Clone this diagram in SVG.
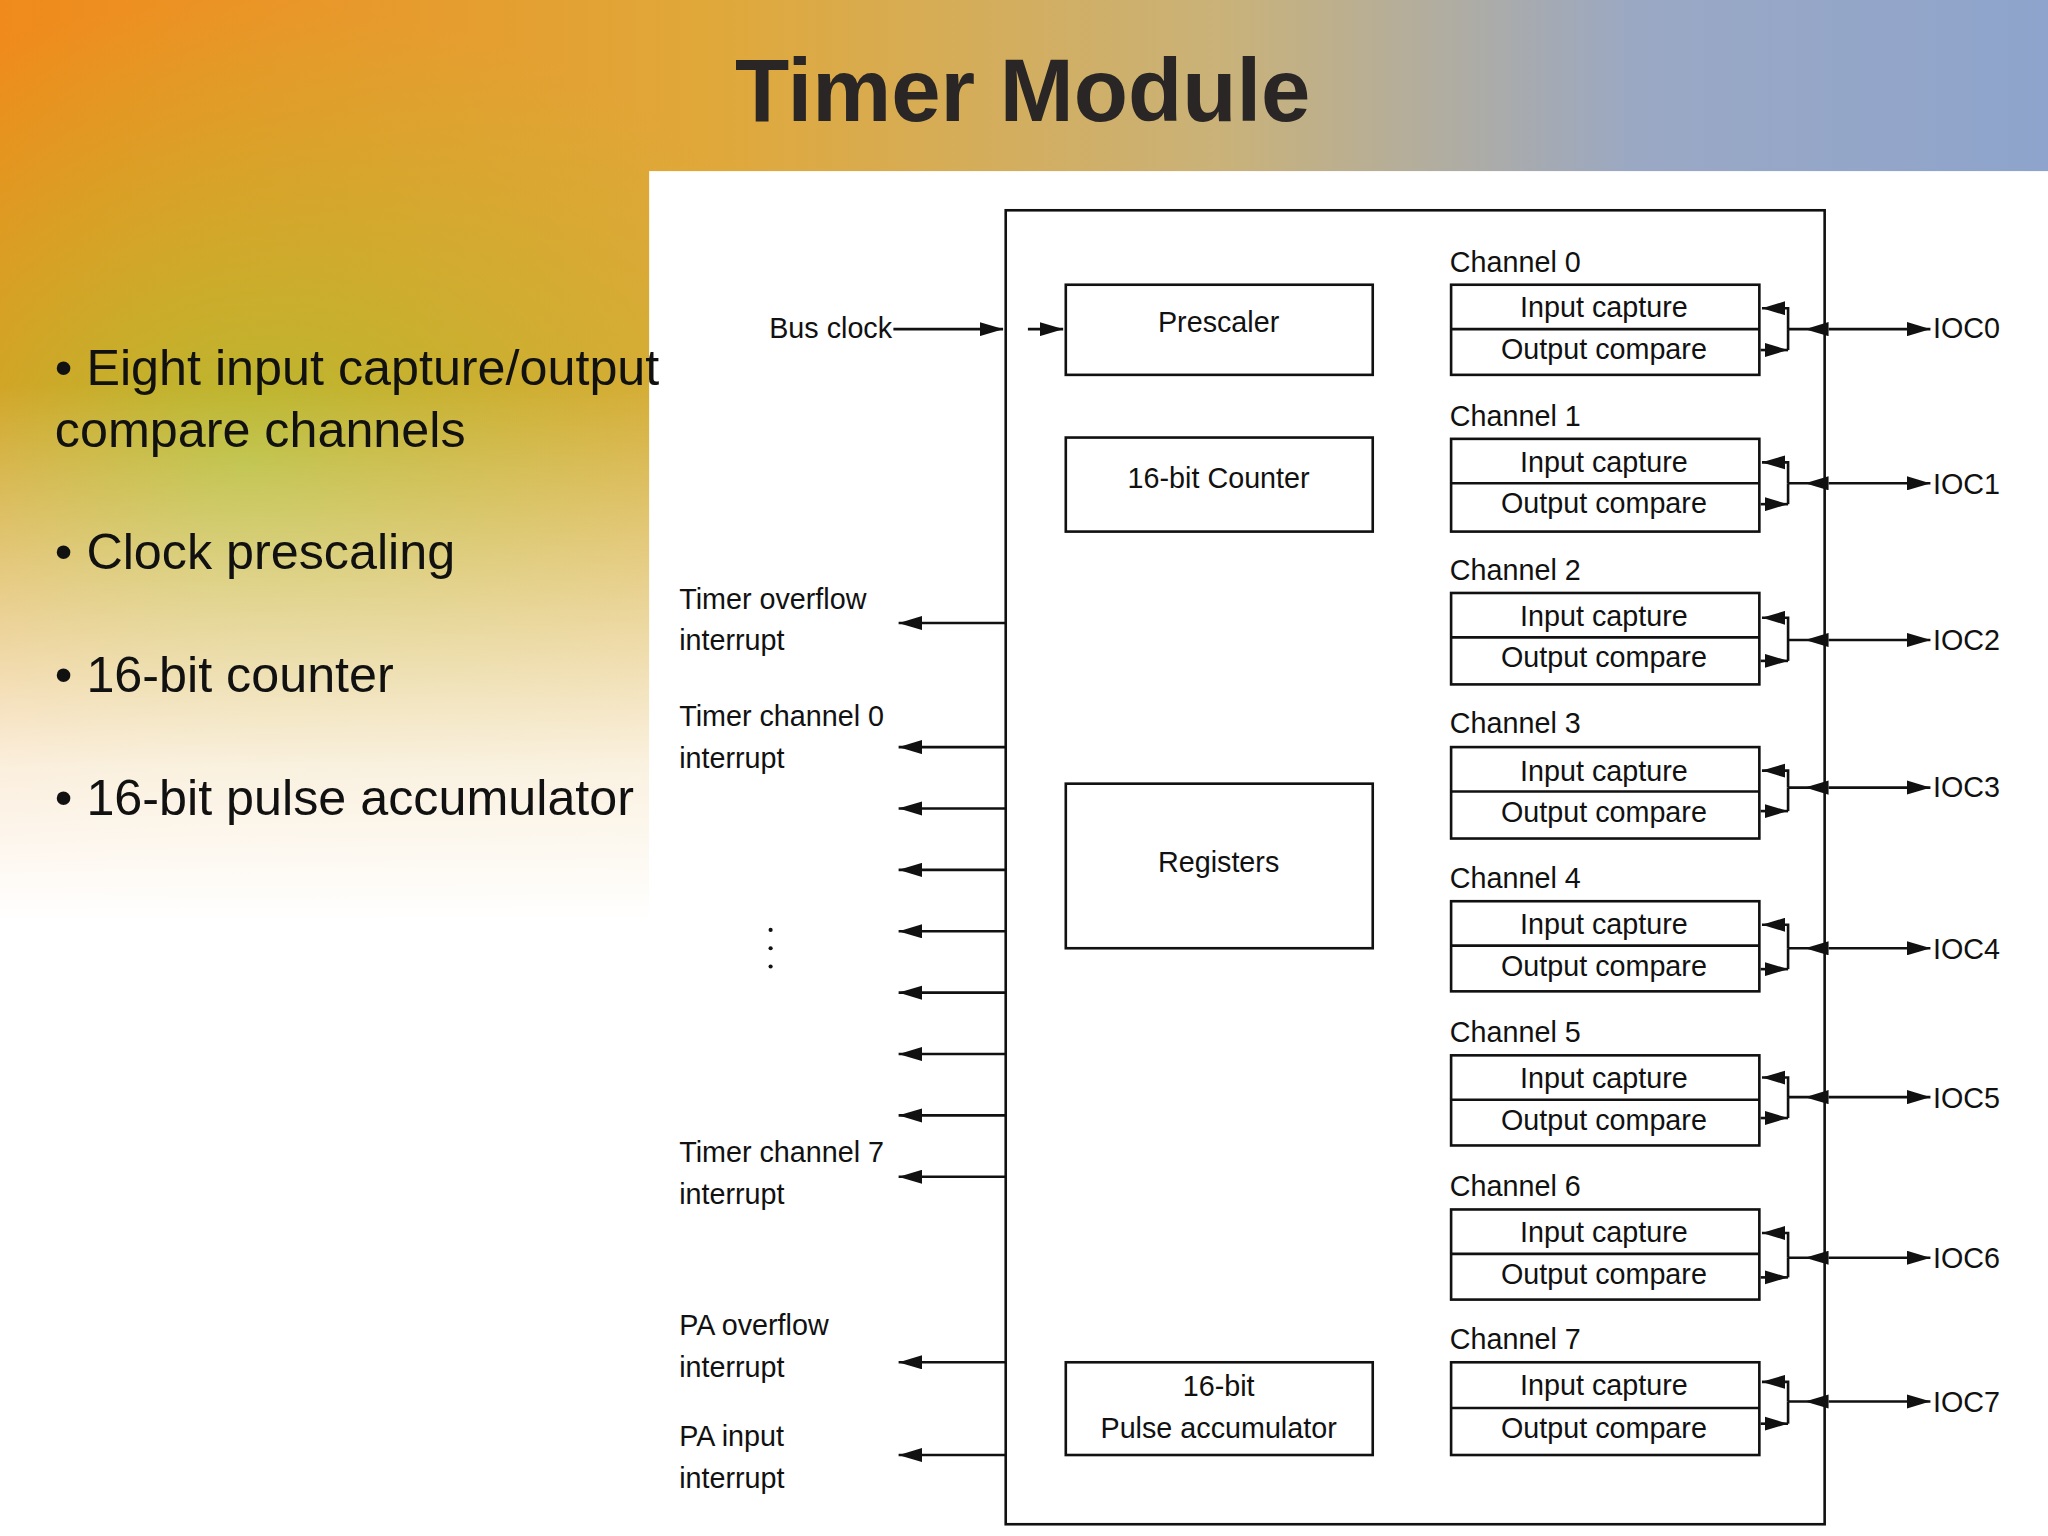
<svg xmlns="http://www.w3.org/2000/svg" width="2048" height="1536" viewBox="0 0 2048 1536">
<defs>
<linearGradient id="bgH" x1="0" y1="0" x2="1" y2="0">
<stop offset="0" stop-color="#f08a1c"/><stop offset="0.35" stop-color="#e0a83a"/><stop offset="0.6" stop-color="#c9b27a"/><stop offset="0.8" stop-color="#9aa8c4"/><stop offset="1" stop-color="#8ea4cc"/>
</linearGradient>
<linearGradient id="fadeV" x1="0" y1="0" x2="0" y2="1">
<stop offset="0" stop-color="#fff" stop-opacity="0"/><stop offset="0.25" stop-color="#fff" stop-opacity="0"/><stop offset="0.5" stop-color="#fff" stop-opacity="0.85"/><stop offset="0.6" stop-color="#fff" stop-opacity="1"/>
</linearGradient>
<radialGradient id="green" cx="0.12" cy="0.3" r="0.3">
<stop offset="0" stop-color="#b0be30" stop-opacity="0.9"/><stop offset="1" stop-color="#b8c030" stop-opacity="0"/>
</radialGradient>
<marker id="ah" viewBox="0 0 10 6" refX="10" refY="3" markerWidth="18" markerHeight="11" markerUnits="userSpaceOnUse" orient="auto">
<path d="M0,0 L10,3 L0,6 z" fill="#111"/>
</marker>
<marker id="ahs" viewBox="0 0 10 6" refX="0" refY="3" markerWidth="18" markerHeight="11" markerUnits="userSpaceOnUse" orient="auto-start-reverse">
<path d="M0,0 L10,3 L0,6 z" fill="#111"/>
</marker>
<style>
.bx{fill:#fff;stroke:#111;stroke-width:2}
.ln{stroke:#111;stroke-width:2;fill:none}
.t{font-family:"Liberation Sans",Arial,sans-serif;font-size:22px;fill:#111}
.c{text-anchor:middle}
.b{font-family:"Liberation Sans",Arial,sans-serif;font-size:38.5px;fill:#111}
</style>
</defs>
<g transform="scale(1.30612)">
<rect x="0" y="0" width="1568" height="1176" fill="url(#bgH)"/>
<rect x="0" y="0" width="1568" height="1176" fill="url(#green)"/>
<rect x="0" y="0" width="1568" height="1176" fill="url(#fadeV)"/>
<rect x="497" y="131" width="1071" height="1045" fill="#fff"/>
<text x="783" y="93" text-anchor="middle" style="font-family:'Liberation Sans',Arial,sans-serif;font-size:68px;font-weight:bold;fill:#2b2626">Timer Module</text>
<g id="bullets">
<text class="b" x="42" y="295">• Eight input capture/output</text>
<text class="b" x="42" y="342">compare channels</text>
<text class="b" x="42" y="436">• Clock prescaling</text>
<text class="b" x="42" y="530">• 16-bit counter</text>
<text class="b" x="42" y="624">• 16-bit pulse accumulator</text>
</g>
<g id="outer"><rect class="bx" x="770" y="161" width="627" height="1006"/></g>
<g id="prescaler"><rect class="bx" x="816" y="218" width="235" height="69"/><text class="t c" x="933" y="254">Prescaler</text></g>
<g id="counter"><rect class="bx" x="816" y="335" width="235" height="72"/><text class="t c" x="933" y="374">16-bit Counter</text></g>
<g id="registers"><rect class="bx" x="816" y="600" width="235" height="126"/><text class="t c" x="933" y="668">Registers</text></g>
<g id="pa"><rect class="bx" x="816" y="1043" width="235" height="71"/><text class="t c" x="933" y="1069">16-bit</text><text class="t c" x="933" y="1101">Pulse accumulator</text></g>
<g id="ch0"><text class="t" x="1110" y="208">Channel 0</text><rect class="bx" x="1111" y="218" width="236" height="69"/><line class="ln" x1="1111" y1="252" x2="1347" y2="252"/><text class="t c" x="1228" y="243">Input capture</text><text class="t c" x="1228" y="275">Output compare</text><text class="t" x="1480" y="259">IOC0</text></g>
<g id="ch1"><text class="t" x="1110" y="326">Channel 1</text><rect class="bx" x="1111" y="336" width="236" height="71"/><line class="ln" x1="1111" y1="370" x2="1347" y2="370"/><text class="t c" x="1228" y="361">Input capture</text><text class="t c" x="1228" y="393">Output compare</text><text class="t" x="1480" y="378">IOC1</text></g>
<g id="ch2"><text class="t" x="1110" y="444">Channel 2</text><rect class="bx" x="1111" y="454" width="236" height="70"/><line class="ln" x1="1111" y1="488" x2="1347" y2="488"/><text class="t c" x="1228" y="479">Input capture</text><text class="t c" x="1228" y="511">Output compare</text><text class="t" x="1480" y="498">IOC2</text></g>
<g id="ch3"><text class="t" x="1110" y="561">Channel 3</text><rect class="bx" x="1111" y="572" width="236" height="70"/><line class="ln" x1="1111" y1="606" x2="1347" y2="606"/><text class="t c" x="1228" y="598">Input capture</text><text class="t c" x="1228" y="629">Output compare</text><text class="t" x="1480" y="610">IOC3</text></g>
<g id="ch4"><text class="t" x="1110" y="680">Channel 4</text><rect class="bx" x="1111" y="690" width="236" height="69"/><line class="ln" x1="1111" y1="724" x2="1347" y2="724"/><text class="t c" x="1228" y="715">Input capture</text><text class="t c" x="1228" y="747">Output compare</text><text class="t" x="1480" y="734">IOC4</text></g>
<g id="ch5"><text class="t" x="1110" y="798">Channel 5</text><rect class="bx" x="1111" y="808" width="236" height="69"/><line class="ln" x1="1111" y1="842" x2="1347" y2="842"/><text class="t c" x="1228" y="833">Input capture</text><text class="t c" x="1228" y="865">Output compare</text><text class="t" x="1480" y="848">IOC5</text></g>
<g id="ch6"><text class="t" x="1110" y="916">Channel 6</text><rect class="bx" x="1111" y="926" width="236" height="69"/><line class="ln" x1="1111" y1="960" x2="1347" y2="960"/><text class="t c" x="1228" y="951">Input capture</text><text class="t c" x="1228" y="983">Output compare</text><text class="t" x="1480" y="971">IOC6</text></g>
<g id="ch7"><text class="t" x="1110" y="1033">Channel 7</text><rect class="bx" x="1111" y="1043" width="236" height="71"/><line class="ln" x1="1111" y1="1078" x2="1347" y2="1078"/><text class="t c" x="1228" y="1068">Input capture</text><text class="t c" x="1228" y="1101">Output compare</text><text class="t" x="1480" y="1081">IOC7</text></g>
<g id="leftlabels">
<text class="t" x="520" y="466">Timer overflow</text><text class="t" x="520" y="498">interrupt</text>
<text class="t" x="520" y="556">Timer channel 0</text><text class="t" x="520" y="588">interrupt</text>
<text class="t" x="520" y="890">Timer channel 7</text><text class="t" x="520" y="922">interrupt</text>
<text class="t" x="520" y="1022">PA overflow</text><text class="t" x="520" y="1054">interrupt</text>
<text class="t" x="520" y="1107">PA input</text><text class="t" x="520" y="1139">interrupt</text>
<text class="t" x="683" y="259" text-anchor="end">Bus clock</text>
<circle cx="590" cy="712" r="1.6" fill="#111"/><circle cx="590" cy="726" r="1.6" fill="#111"/><circle cx="590" cy="740" r="1.6" fill="#111"/>
</g>
<g id="connectors">
<line class="ln" x1="684" y1="252" x2="768" y2="252" marker-end="url(#ah)"/>
<line class="ln" x1="787" y1="252" x2="814" y2="252" marker-end="url(#ah)"/>
<g marker-end="url(#ah)">
<line class="ln" x1="770" y1="477" x2="688" y2="477"/>
<line class="ln" x1="770" y1="572" x2="688" y2="572"/>
<line class="ln" x1="770" y1="619" x2="688" y2="619"/>
<line class="ln" x1="770" y1="666" x2="688" y2="666"/>
<line class="ln" x1="770" y1="713" x2="688" y2="713"/>
<line class="ln" x1="770" y1="760" x2="688" y2="760"/>
<line class="ln" x1="770" y1="807" x2="688" y2="807"/>
<line class="ln" x1="770" y1="854" x2="688" y2="854"/>
<line class="ln" x1="770" y1="901" x2="688" y2="901"/>
<line class="ln" x1="770" y1="1043" x2="688" y2="1043"/>
<line class="ln" x1="770" y1="1114" x2="688" y2="1114"/>
</g>
<path class="ln" d="M1369,252 V236 H1349" marker-end="url(#ah)"/><path class="ln" d="M1369,252 V268"/><line class="ln" x1="1348" y1="268" x2="1369" y2="268" marker-end="url(#ah)"/><line class="ln" x1="1369" y1="252" x2="1397" y2="252"/><line class="ln" x1="1400" y1="252" x2="1478" y2="252" marker-start="url(#ahs)" marker-end="url(#ah)"/>
<path class="ln" d="M1369,370 V354 H1349" marker-end="url(#ah)"/><path class="ln" d="M1369,370 V386"/><line class="ln" x1="1348" y1="386" x2="1369" y2="386" marker-end="url(#ah)"/><line class="ln" x1="1369" y1="370" x2="1397" y2="370"/><line class="ln" x1="1400" y1="370" x2="1478" y2="370" marker-start="url(#ahs)" marker-end="url(#ah)"/>
<path class="ln" d="M1369,490 V473 H1349" marker-end="url(#ah)"/><path class="ln" d="M1369,490 V506"/><line class="ln" x1="1348" y1="506" x2="1369" y2="506" marker-end="url(#ah)"/><line class="ln" x1="1369" y1="490" x2="1397" y2="490"/><line class="ln" x1="1400" y1="490" x2="1478" y2="490" marker-start="url(#ahs)" marker-end="url(#ah)"/>
<path class="ln" d="M1369,603 V590 H1349" marker-end="url(#ah)"/><path class="ln" d="M1369,603 V621"/><line class="ln" x1="1348" y1="621" x2="1369" y2="621" marker-end="url(#ah)"/><line class="ln" x1="1369" y1="603" x2="1397" y2="603"/><line class="ln" x1="1400" y1="603" x2="1478" y2="603" marker-start="url(#ahs)" marker-end="url(#ah)"/>
<path class="ln" d="M1369,726 V708 H1349" marker-end="url(#ah)"/><path class="ln" d="M1369,726 V742"/><line class="ln" x1="1348" y1="742" x2="1369" y2="742" marker-end="url(#ah)"/><line class="ln" x1="1369" y1="726" x2="1397" y2="726"/><line class="ln" x1="1400" y1="726" x2="1478" y2="726" marker-start="url(#ahs)" marker-end="url(#ah)"/>
<path class="ln" d="M1369,840 V825 H1349" marker-end="url(#ah)"/><path class="ln" d="M1369,840 V856"/><line class="ln" x1="1348" y1="856" x2="1369" y2="856" marker-end="url(#ah)"/><line class="ln" x1="1369" y1="840" x2="1397" y2="840"/><line class="ln" x1="1400" y1="840" x2="1478" y2="840" marker-start="url(#ahs)" marker-end="url(#ah)"/>
<path class="ln" d="M1369,963 V944 H1349" marker-end="url(#ah)"/><path class="ln" d="M1369,963 V978"/><line class="ln" x1="1348" y1="978" x2="1369" y2="978" marker-end="url(#ah)"/><line class="ln" x1="1369" y1="963" x2="1397" y2="963"/><line class="ln" x1="1400" y1="963" x2="1478" y2="963" marker-start="url(#ahs)" marker-end="url(#ah)"/>
<path class="ln" d="M1369,1073 V1058 H1349" marker-end="url(#ah)"/><path class="ln" d="M1369,1073 V1090"/><line class="ln" x1="1348" y1="1090" x2="1369" y2="1090" marker-end="url(#ah)"/><line class="ln" x1="1369" y1="1073" x2="1397" y2="1073"/><line class="ln" x1="1400" y1="1073" x2="1478" y2="1073" marker-start="url(#ahs)" marker-end="url(#ah)"/>
</g>
</g>
</svg>
